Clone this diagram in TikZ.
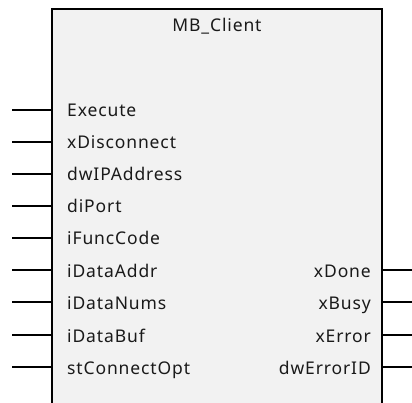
\documentclass[tikz,border=0pt]{standalone}
\usepackage{fontspec}
\setmainfont{Noto Sans}[LetterSpace=5]
\definecolor{boxfill}{HTML}{F2F2F2}
\definecolor{txt}{HTML}{1A1A1A}
\begin{document}
\begin{tikzpicture}[x=1pt,y=-1pt,
  pinline/.style={line width=1.8pt, draw=black},
  lbl/.style={font=\fontsize{17.5}{20}\selectfont, text=txt, inner sep=0pt},
  fbbox/.style={draw=black, line width=1.8pt, fill=boxfill, inner sep=0pt,
                minimum width=330pt, minimum height=430pt, anchor=north west}]
\useasboundingbox (0,0) rectangle (412,403);
\clip (0,0) rectangle (412,403);
\node[fbbox] (fb) at (51,8) {};
\node[lbl, anchor=base] (title) at (217,31.5) {MB\_Client};
% inputs
\foreach \name/\txt/\yy in {in0/Execute/110, in1/xDisconnect/142, in2/dwIPAddress/174, in3/diPort/206, in4/iFuncCode/238, in5/iDataAddr/270, in6/iDataNums/302, in7/iDataBuf/335, in8/stConnectOpt/367} {
  \node[lbl, anchor=base west] (\name) at (67,\yy+7) {\txt};
  \coordinate (\name p) at (12,\yy);
  \coordinate (\name e) at (51,\yy);
  \draw[pinline] (\name p) -- (\name e);
}
% outputs
\foreach \name/\txt/\yy in {out0/xDone/270, out1/xBusy/302, out2/xError/335, out3/dwErrorID/367} {
  \node[lbl, anchor=base east] (\name) at (371,\yy+7) {\txt};
  \coordinate (\name p) at (412,\yy);
  \coordinate (\name e) at (381,\yy);
  \draw[pinline] (\name e) -- (\name p);
}
\end{tikzpicture}
\end{document}
